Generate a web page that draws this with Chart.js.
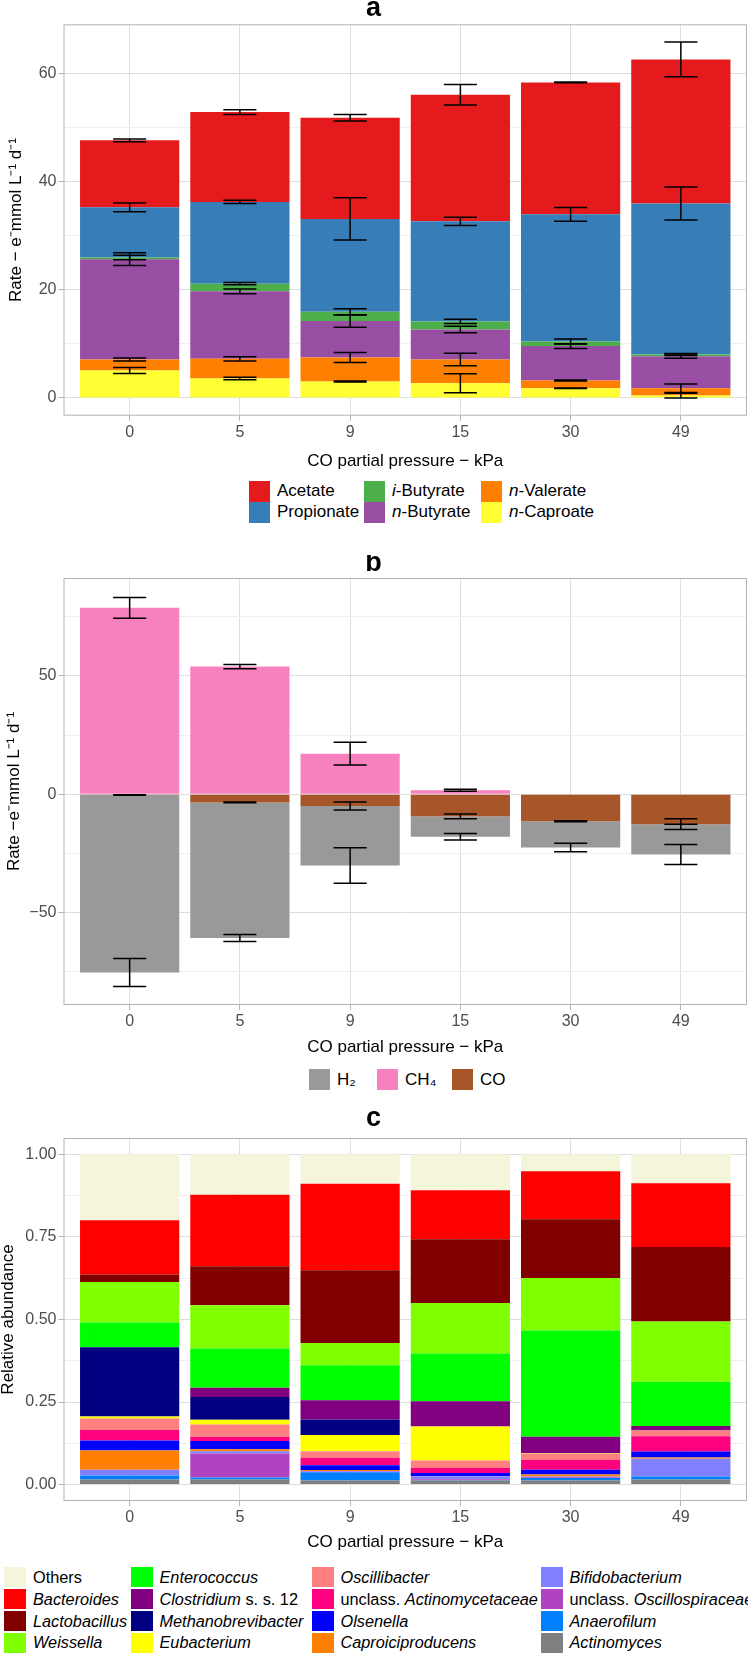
<!DOCTYPE html>
<html>
<head>
<meta charset="utf-8">
<script src="https://cdn.jsdelivr.net/npm/chart.js@4.4.0/dist/chart.umd.min.js"></script>
<style>
  body { margin: 0; background: #fff; width: 748px; height: 1653px; position: relative; overflow: hidden;
         font-family: "Liberation Sans", Arial, sans-serif; color: #000; }
  canvas { position: absolute; left: 0; }
  .item { position: absolute; display: flex; align-items: center; white-space: nowrap; }
  .key { display: inline-block; margin-right: 7px; flex: none; }
</style>
</head>
<body>
<canvas id="chartA" width="748" height="474" style="top:0px"></canvas>
<canvas id="chartB" width="748" height="505" style="top:555px"></canvas>
<canvas id="chartC" width="748" height="445" style="top:1110px"></canvas>

<script>
// eixo x comum
const pressures = ['0', '5', '9', '15', '30', '49'];

// painel a - ácidos (altura de cada segmento, e- mmol/L/d)
const caproate   = [5.07, 3.59, 3.03, 2.72, 1.79, 0.43];
const valerate   = [2.04, 3.65, 4.45, 4.39, 1.43, 1.36];
const nButyrate  = [18.59, 12.49, 6.74, 5.57, 6.37, 5.94];
const iButyrate  = [0.30, 1.42, 1.74, 1.48, 0.86, 0.31];
const propionate = [9.30, 15.15, 17.19, 18.54, 23.55, 27.96];
const acetate    = [12.40, 16.64, 18.75, 23.45, 24.44, 26.70];
// desvios (meia barra de erro)
const caproateSd   = [0.55, 0.25, 0.10, 1.76, 0.05, 0.45];
const valerateSd   = [0.30, 0.40, 0.93, 1.17, 0.10, 0.80];
const nButyrateSd  = [1.20, 0.45, 1.15, 0.60, 0.45, 0.40];
const iButyrateSd  = [0.40, 0.20, 0.55, 0.40, 0.45, 0.20];
const propionateSd = [0.80, 0.30, 3.90, 0.75, 1.27, 3.06];
const acetateSd    = [0.25, 0.45, 0.60, 1.90, 0.05, 3.20];

// painel b - gases
const coRate  = [-0.3, -3.4, -4.9, -9.3, -11.4, -12.6];
const ch4Rate = [78.8, 54.0, 17.2, 1.7, 0, 0];
const h2Rate  = [-75.0, -57.3, -25.2, -8.6, -11.1, -12.8];
const coSd  = [0.1, 0.2, 1.7, 1.0, 0.2, 2.3];
const ch4Sd = [4.4, 0.9, 4.8, 0.4, 0, 0];
const h2Sd  = [5.9, 1.5, 7.5, 1.4, 1.8, 4.2];

// painel c - abundância relativa (ordem da legenda)
const others            = [0.200, 0.123, 0.089, 0.108, 0.051, 0.088];
const bacteroides       = [0.165, 0.217, 0.262, 0.149, 0.145, 0.193];
const lactobacillus     = [0.022, 0.118, 0.220, 0.193, 0.178, 0.226];
const weissella         = [0.123, 0.131, 0.068, 0.153, 0.159, 0.183];
const enterococcus      = [0.075, 0.119, 0.106, 0.145, 0.322, 0.134];
const clostridium       = [0.000, 0.028, 0.058, 0.076, 0.050, 0.013];
const methanobrevibacter= [0.210, 0.069, 0.047, 0.000, 0.000, 0.000];
const eubacterium       = [0.006, 0.014, 0.049, 0.103, 0.002, 0.000];
const oscillibacter     = [0.035, 0.038, 0.020, 0.023, 0.019, 0.018];
const actinomycetaceae  = [0.032, 0.012, 0.023, 0.015, 0.029, 0.046];
const olsenella         = [0.030, 0.025, 0.014, 0.009, 0.015, 0.018];
const caproiciproducens = [0.058, 0.006, 0.003, 0.001, 0.006, 0.004];
const bifidobacterium   = [0.018, 0.007, 0.002, 0.009, 0.002, 0.054];
const oscillospiraceae  = [0.000, 0.073, 0.002, 0.002, 0.002, 0.000];
const anaerofilum       = [0.012, 0.006, 0.025, 0.002, 0.008, 0.009];
const actinomyces       = [0.015, 0.015, 0.012, 0.012, 0.012, 0.015];

const FONT = '"Liberation Sans", Arial, sans-serif';
Chart.defaults.font.family = FONT;
const GRID = '#DEDEDE', MINOR = '#EFEFEF', FRAME = '#B3B3B3', TICKTXT = '#4D4D4D';

// barras de erro no topo de cada segmento empilhado
const errorBars = {
  id: 'errorBars',
  afterDatasetsDraw(chart, args, opts) {
    if (!opts.errors) return;
    const { ctx, scales: { x, y } } = chart;
    const half = Math.abs(x.getPixelForValue(0.15) - x.getPixelForValue(0));
    ctx.save();
    ctx.strokeStyle = '#000';
    ctx.lineWidth = 1.5;
    opts.errors.forEach((errs, di) => {
      if (!errs) return;
      chart.getDatasetMeta(di).data.forEach((bar, j) => {
        const dy = Math.abs(y.getPixelForValue(errs[j]) - y.getPixelForValue(0));
        ctx.beginPath();
        ctx.moveTo(bar.x, bar.y - dy); ctx.lineTo(bar.x, bar.y + dy);
        ctx.moveTo(bar.x - half, bar.y - dy); ctx.lineTo(bar.x + half, bar.y - dy);
        ctx.moveTo(bar.x - half, bar.y + dy); ctx.lineTo(bar.x + half, bar.y + dy);
        ctx.stroke();
      });
    });
    ctx.restore();
  }
};

// moldura cinza do painel (estilo theme_light)
const panelBorder = {
  id: 'panelBorder',
  afterDraw(chart) {
    const { ctx, chartArea: a } = chart;
    ctx.save();
    ctx.strokeStyle = FRAME;
    ctx.lineWidth = 1;
    ctx.strokeRect(a.left + 0.5, a.top + 0.5, a.right - a.left - 1, a.bottom - a.top - 1);
    ctx.restore();
  }
};

function makeChart(id, o) {
  const datasets = o.series.map(s => ({
    label: s.name,
    data: s.values.map((v, i) => ({ x: i, y: v })),
    backgroundColor: s.color,
    borderWidth: 0,
    categoryPercentage: 0.9,
    barPercentage: 1
  }));
  return new Chart(document.getElementById(id), {
    type: 'bar',
    data: { datasets },
    options: {
      responsive: false,
      animation: false,
      layout: { padding: { left: 0, right: 1, top: 0, bottom: 0 } },
      plugins: {
        legend: { display: false },
        tooltip: { enabled: false },
        title: {
          display: true, text: o.title, color: '#000',
          font: { size: 27, weight: 'bold', lineHeight: 0.6 },
          padding: { top: 0, bottom: o.titleGap }
        },
        errorBars: { errors: o.errors }
      },
      scales: {
        x: {
          type: 'linear', stacked: true, offset: false,
          min: -0.6, max: pressures.length - 0.4,
          afterBuildTicks: s => { s.ticks = pressures.map((_, i) => ({ value: i })); },
          afterFit: s => { s.height = o.xHeight; },
          grid: { color: GRID, tickColor: FRAME, tickLength: 5, offset: false },
          border: { display: false },
          ticks: { color: TICKTXT, font: { size: 16 }, padding: 2, autoSkip: false, maxRotation: 0,
                   callback: v => pressures[v] },
          title: { display: true, text: 'CO partial pressure − kPa', color: '#000',
                   font: { size: 17, lineHeight: 1.2 }, padding: { top: 0, bottom: 2.8 } }
        },
        y: {
          stacked: true, min: o.yMin, max: o.yMax,
          afterBuildTicks: s => { s.ticks = o.yTicks.map(v => ({ value: v })); },
          afterFit: s => { s.width = 63.5; },
          grid: {
            color: c => o.isMajor(c.tick.value) ? GRID : MINOR,
            tickColor: c => o.isMajor(c.tick.value) ? FRAME : 'rgba(0,0,0,0)',
            tickLength: 5
          },
          border: { display: false },
          ticks: { color: TICKTXT, font: { size: 16 }, padding: 2, autoSkip: false,
                   callback: v => o.isMajor(v) ? o.fmt(v) : '' },
          title: { display: true, text: o.yTitle, color: '#000',
                   font: { size: 17, lineHeight: 1 }, padding: { top: o.yTitlePad, bottom: 0 } }
        }
      }
    },
    plugins: [errorBars, panelBorder]
  });
}

// legenda HTML (ordem por colunas)
function buildLegend(items, colX, rowY, keyW, keyH, size) {
  items.forEach((it, k) => {
    const col = Math.floor(k / rowY.length), row = k % rowY.length;
    const d = document.createElement('div');
    d.className = 'item';
    d.style.left = colX[col] + 'px';
    d.style.top = rowY[row] + 'px';
    d.style.height = keyH + 'px';
    d.style.fontSize = size + 'px';
    d.innerHTML = `<span class="key" style="background:${it.color};width:${keyW}px;height:${keyH}px"></span><span>${it.label}</span>`;
    document.body.appendChild(d);
  });
}

// ---------- a ----------
const acidColors = { acetate: '#E41A1C', propionate: '#377EB8', iBut: '#4DAF4A', nBut: '#984EA3', val: '#FF7F00', cap: '#FFFF33' };
makeChart('chartA', {
  title: 'a', titleGap: 8.1, xHeight: 58.3,
  yMin: -3.3, yMax: 69.2, yTicks: [0, 10, 20, 30, 40, 50, 60],
  isMajor: v => v % 20 === 0, fmt: v => String(v),
  yTitle: 'Rate − e⁻mmol L⁻¹ d⁻¹', yTitlePad: 8,
  series: [
    { name: 'n-Caproate', values: caproate, color: acidColors.cap },
    { name: 'n-Valerate', values: valerate, color: acidColors.val },
    { name: 'n-Butyrate', values: nButyrate, color: acidColors.nBut },
    { name: 'i-Butyrate', values: iButyrate, color: acidColors.iBut },
    { name: 'Propionate', values: propionate, color: acidColors.propionate },
    { name: 'Acetate', values: acetate, color: acidColors.acetate }
  ],
  errors: [caproateSd, valerateSd, nButyrateSd, iButyrateSd, propionateSd, acetateSd]
});
buildLegend([
  { label: 'Acetate', color: acidColors.acetate },
  { label: 'Propionate', color: acidColors.propionate },
  { label: '<i>i</i>-Butyrate', color: acidColors.iBut },
  { label: '<i>n</i>-Butyrate', color: acidColors.nBut },
  { label: '<i>n</i>-Valerate', color: acidColors.val },
  { label: '<i>n</i>-Caproate', color: acidColors.cap }
], [249, 364, 481], [481, 502], 21, 20.5, 17);

// ---------- b ----------
const gasColors = { h2: '#999999', ch4: '#F781BF', co: '#A65628' };
makeChart('chartB', {
  title: 'b', titleGap: 6.8, xHeight: 55,
  yMin: -89, yMax: 91.4, yTicks: [-75, -50, -25, 0, 25, 50, 75],
  isMajor: v => v % 50 === 0, fmt: v => (v < 0 ? '−' + Math.abs(v) : String(v)),
  yTitle: 'Rate −e⁻mmol L⁻¹ d⁻¹', yTitlePad: 6,
  series: [
    { name: 'CO', values: coRate, color: gasColors.co },
    { name: 'CH₄', values: ch4Rate, color: gasColors.ch4 },
    { name: 'H₂', values: h2Rate, color: gasColors.h2 }
  ],
  errors: [coSd, ch4Sd, h2Sd]
});
buildLegend([
  { label: 'H₂', color: gasColors.h2 },
  { label: 'CH₄', color: gasColors.ch4 },
  { label: 'CO', color: gasColors.co }
], [309, 377, 452], [1069], 21, 21, 17);

// ---------- c ----------
const taxa = [
  { label: 'Others', values: others, color: '#F5F5DC' },
  { label: '<i>Bacteroides</i>', values: bacteroides, color: '#FF0000' },
  { label: '<i>Lactobacillus</i>', values: lactobacillus, color: '#800000' },
  { label: '<i>Weissella</i>', values: weissella, color: '#80FF00' },
  { label: '<i>Enterococcus</i>', values: enterococcus, color: '#00FF00' },
  { label: '<i>Clostridium</i> s. s. 12', values: clostridium, color: '#800080' },
  { label: '<i>Methanobrevibacter</i>', values: methanobrevibacter, color: '#000080' },
  { label: '<i>Eubacterium</i>', values: eubacterium, color: '#FFFF00' },
  { label: '<i>Oscillibacter</i>', values: oscillibacter, color: '#FF8080' },
  { label: 'unclass. <i>Actinomycetaceae</i>', values: actinomycetaceae, color: '#FF0080' },
  { label: '<i>Olsenella</i>', values: olsenella, color: '#0000FF' },
  { label: '<i>Caproiciproducens</i>', values: caproiciproducens, color: '#FF8000' },
  { label: '<i>Bifidobacterium</i>', values: bifidobacterium, color: '#8080FF' },
  { label: 'unclass. <i>Oscillospiraceae</i>', values: oscillospiraceae, color: '#B044C0' },
  { label: '<i>Anaerofilum</i>', values: anaerofilum, color: '#0080FF' },
  { label: '<i>Actinomyces</i>', values: actinomyces, color: '#808080' }
];
makeChart('chartC', {
  title: 'c', titleGap: 11.8, xHeight: 54,
  yMin: -0.05, yMax: 1.05, yTicks: [0, 0.125, 0.25, 0.375, 0.5, 0.625, 0.75, 0.875, 1],
  isMajor: v => Math.abs(v * 4 - Math.round(v * 4)) < 1e-9, fmt: v => v.toFixed(2),
  yTitle: 'Relative abundance', yTitlePad: 0,
  series: taxa.slice().reverse().map(t => ({ name: t.label, values: t.values, color: t.color }))
});
buildLegend(taxa, [4, 130.5, 311.5, 540.5], [1567, 1589, 1611, 1632.5], 22, 20, 16.3);
</script>
</body>
</html>
